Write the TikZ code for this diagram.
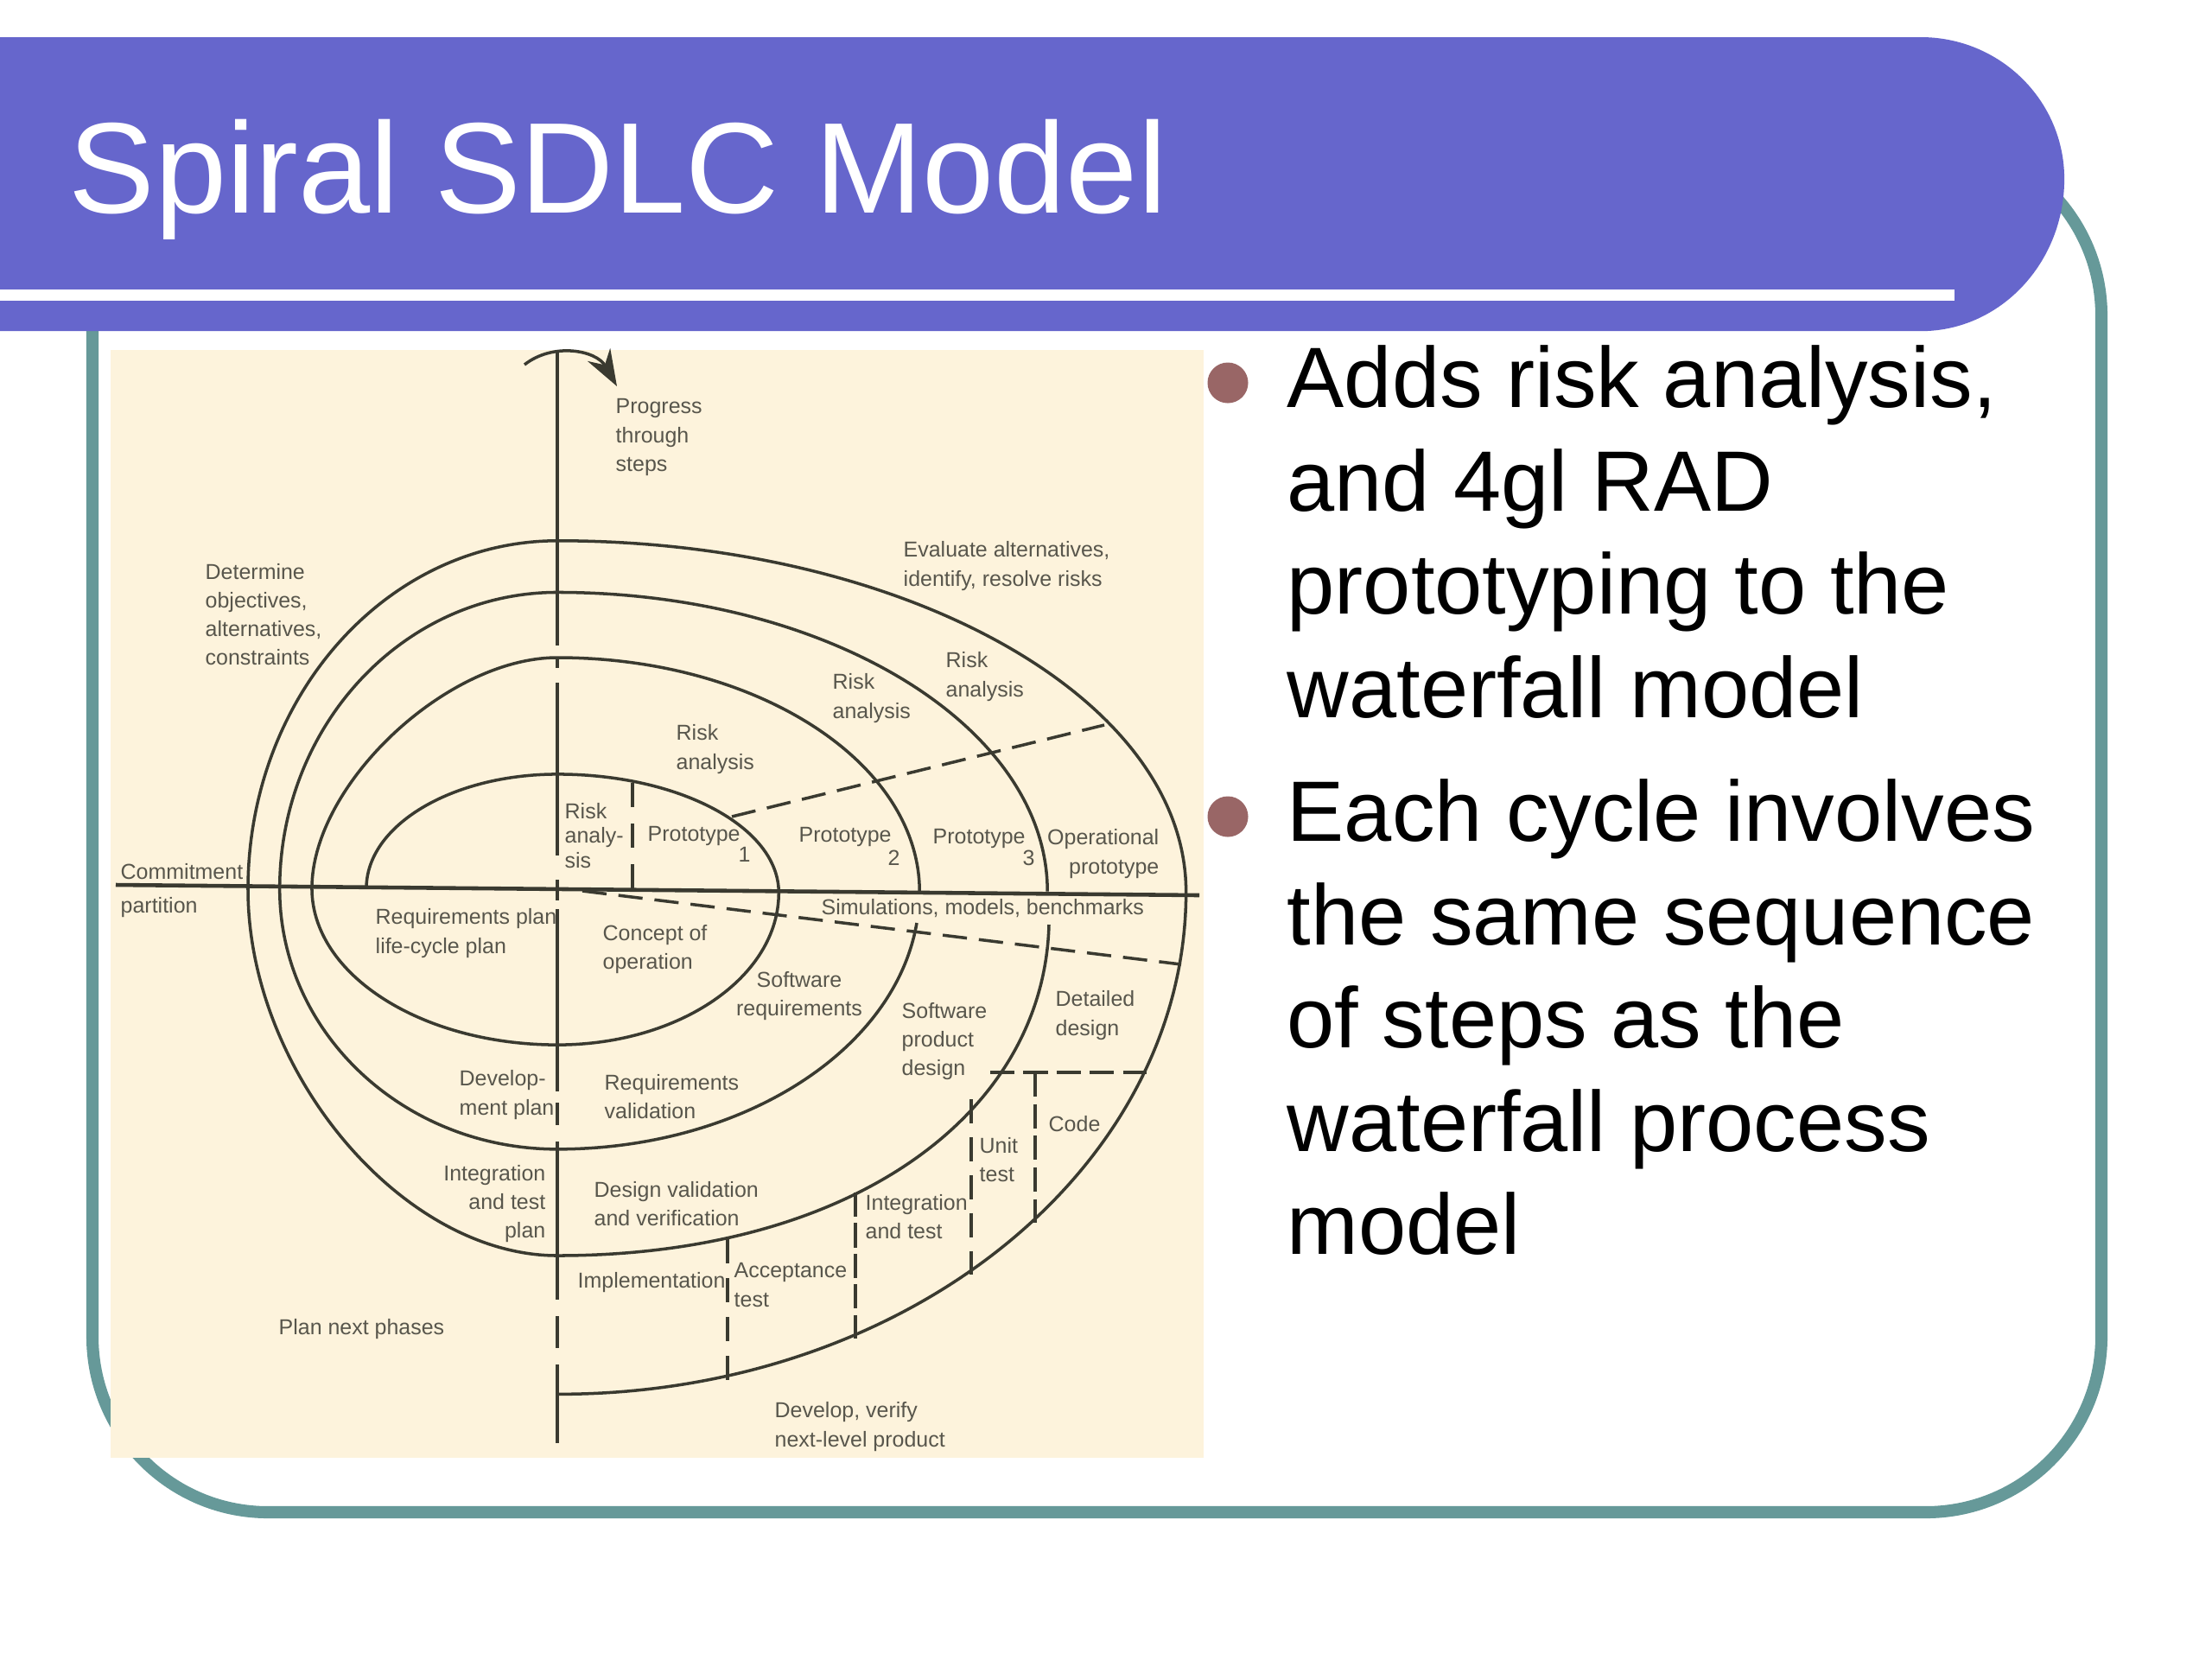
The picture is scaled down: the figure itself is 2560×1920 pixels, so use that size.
\documentclass[tikz,border=0pt]{standalone}
\usepackage{fontspec}
\setmainfont{Liberation Sans}
\usetikzlibrary{arrows.meta}
\definecolor{bandblue}{RGB}{102,102,204}
\definecolor{frameteal}{RGB}{102,153,153}
\definecolor{bulletrose}{RGB}{153,102,102}
\definecolor{scancream}{RGB}{253,243,220}
\definecolor{scanink}{RGB}{58,58,48}
\definecolor{scantext}{RGB}{88,86,76}

\begin{document}
\begin{tikzpicture}[
      x=0.01cm, y=-0.01cm,
      spiral/.style={draw=scanink, line width=1pt},
      lbl/.style={inner sep=0pt, align=left, anchor=west, text=scantext, font=\fontsize{7.1}{9.4}\selectfont},
      lblr/.style={lbl, align=right, anchor=east},
      point/.style={anchor=north west, inner sep=0pt, align=left, font=\fontsize{28.2}{34}\selectfont},
      dot/.style={circle, fill=bulletrose, minimum size=0.47cm, inner sep=0pt}
    ]
      \useasboundingbox (0,0) rectangle (2560,1920);
      \fill[white] (0,0) rectangle (2560,1920);

      \draw[frameteal, line width=4pt, rounded corners=2.03cm] (107,162) rectangle (2432,1750);

      \fill[bandblue] (0,43) -- (2223,43) arc[start angle=90, end angle=0, x radius=1.66cm, y radius=1.64cm]
        arc[start angle=0, end angle=-90, x radius=1.66cm, y radius=1.76cm] -- (0,383) -- cycle;
      \fill[white] (0,335) rectangle (2262,348);
      \node[anchor=west, inner sep=0pt, text=white, font=\fontsize{42.5}{48}\selectfont] (title) at (79,208) {Spiral SDLC Model};

      \fill[scancream] (128,405) rectangle (1393,1687);

      \coordinate (axisN) at (645,406);
      \coordinate (axisW) at (134,1024);
      \coordinate (axisE) at (1388,1036);
      \coordinate (arrowS) at (607,422);
      \coordinate (arrowT) at (714,447);
      \draw[spiral, line width=1.3pt] (axisW) -- (axisE);
      \draw[spiral, -{Stealth[length=0.42cm,width=0.3cm]}] (arrowS) .. controls (640,396) and (690,405) .. (arrowT);

      \foreach \ya/\yb in {406/747, 763/773, 790/990, 1018/1042, 1052/1263, 1276/1302, 1321/1504, 1523/1560, 1579/1670}
        \draw[spiral] (645,\ya) -- (645,\yb);

      \draw[spiral] (424,1028) arc[start angle=180, end angle=90, x radius=2.21cm, y radius=1.32cm]
        arc[start angle=90, end angle=0, x radius=2.56cm, y radius=1.37cm]
        arc[start angle=0, end angle=-90, x radius=2.56cm, y radius=1.76cm]
        arc[start angle=-90, end angle=-180, x radius=2.84cm, y radius=1.81cm]
        .. controls (361,908) and (517,761) .. (645,761)
        arc[start angle=90, end angle=0, x radius=4.19cm, y radius=2.71cm];
      \draw[spiral] (1061,1068) arc[start angle=-7, end angle=-90, x radius=4.19cm, y radius=2.98cm]
        arc[start angle=-90, end angle=-180, x radius=3.21cm, y radius=3.01cm]
        arc[start angle=180, end angle=90, x radius=3.21cm, y radius=3.43cm]
        arc[start angle=90, end angle=0, x radius=5.67cm, y radius=3.46cm];
      \draw[spiral] (1214,1070) .. controls (1208,1290) and (985,1453) .. (645,1453)
        .. controls (466,1453) and (287,1241) .. (287,1029)
        arc[start angle=180, end angle=90, x radius=3.58cm, y radius=4.03cm]
        arc[start angle=90, end angle=0, x radius=7.27cm, y radius=4.06cm]
        arc[start angle=0, end angle=-90, x radius=7.25cm, y radius=5.81cm];

      \coordinate (protoA) at (847,945);
      \coordinate (protoB) at (1278,839);
      \coordinate (simA) at (674,1031);
      \coordinate (simB) at (1367,1116);
      \coordinate (codeA) at (1146,1241);
      \coordinate (codeB) at (1327,1241);
      \coordinate (codeT) at (1198,1241);
      \coordinate (codeS) at (1198,1415);
      \coordinate (unitT) at (1124,1272);
      \coordinate (unitS) at (1124,1475);
      \coordinate (integT) at (990,1380);
      \coordinate (integS) at (990,1549);
      \coordinate (acceptT) at (842,1434);
      \coordinate (acceptS) at (842,1597);
      \coordinate (riskT) at (732,906);
      \coordinate (riskS) at (732,1028);
      \foreach \a/\b/\g in {protoA/protoB/3.87pt, simA/simB/3.95pt, codeA/codeB/2.92pt, codeT/codeS/2.42pt, unitT/unitS/4.48pt, integT/integS/2.06pt, acceptT/acceptS/4.83pt, riskT/riskS/5.4pt}
        \draw[spiral, dash pattern=on 8pt off \g] (\a) -- (\b);

      \node[lbl] (progress) at (712,506) {Progress\\through\\steps};
      \node[lbl] (determine) at (237,711) {Determine\\objectives,\\alternatives,\\constraints};
      \node[lbl] (evaluate) at (1045,655) {Evaluate alternatives,\\identify, resolve risks};
      \node[lbl] (riskD) at (1094,783) {Risk\\analysis};
      \node[lbl] (riskC) at (963,808) {Risk\\analysis};
      \node[lbl] (riskB) at (782,867) {Risk\\analysis};
      \node[lbl, font=\fontsize{7.1}{8}\selectfont] (riskA) at (653,967) {Risk\\analy-\\sis};
      \node[lbl] (protoOne) at (749,967) {Prototype};
      \node[lbl] (numOne) at (854,989) {1};
      \node[lbl] (protoTwo) at (924,968) {Prototype};
      \node[lbl] (numTwo) at (1027,993) {2};
      \node[lbl] (protoThree) at (1079,970) {Prototype};
      \node[lbl] (numThree) at (1183,993) {3};
      \node[lblr] (operational) at (1342,988) {Operational\\prototype};
      \node[lbl] (commitment) at (139,1009) {Commitment};
      \node[lbl] (partition) at (139,1050) {partition};
      \node[lbl] (reqPlan) at (434,1080) {Requirements plan\\life-cycle plan};
      \node[lbl] (concept) at (697,1099) {Concept of\\operation};
      \node[lbl] (simul) at (950,1051) {Simulations, models, benchmarks};
      \node[lbl, align=center, anchor=center] (softReq) at (925,1153) {Software\\requirements};
      \node[lbl] (softProd) at (1043,1205) {Software\\product\\design};
      \node[lbl] (detailed) at (1221,1175) {Detailed\\design};
      \node[lbl] (devPlan) at (531,1267) {Develop-\\ment plan};
      \node[lbl] (reqVal) at (699,1269) {Requirements\\validation};
      \node[lbl] (code) at (1213,1301) {Code};
      \node[lbl] (unit) at (1133,1342) {Unit\\test};
      \node[lblr] (integPlan) at (632,1393) {Integration\\and test\\plan};
      \node[lbl] (designVal) at (687,1393) {Design validation\\and verification};
      \node[lbl] (integTest) at (1001,1408) {Integration\\and test};
      \node[lbl] (impl) at (668,1484) {Implementation};
      \node[lbl] (accept) at (849,1487) {Acceptance\\test};
      \node[lbl] (planNext) at (322,1538) {Plan next phases};
      \node[lbl] (develop) at (896,1651) {Develop, verify\\next-level product};

      \node[dot] (dotA) at (1421,443) {};
      \node[dot] (dotB) at (1421,945) {};
      \node[point] (pointA) at (1489,399) {Adds risk analysis,\\and 4gl RAD\\prototyping to the\\waterfall model};
      \node[point] (pointB) at (1489,901) {Each cycle involves\\the same sequence\\of steps as the\\waterfall process\\model};
    \end{tikzpicture}
\end{document}
